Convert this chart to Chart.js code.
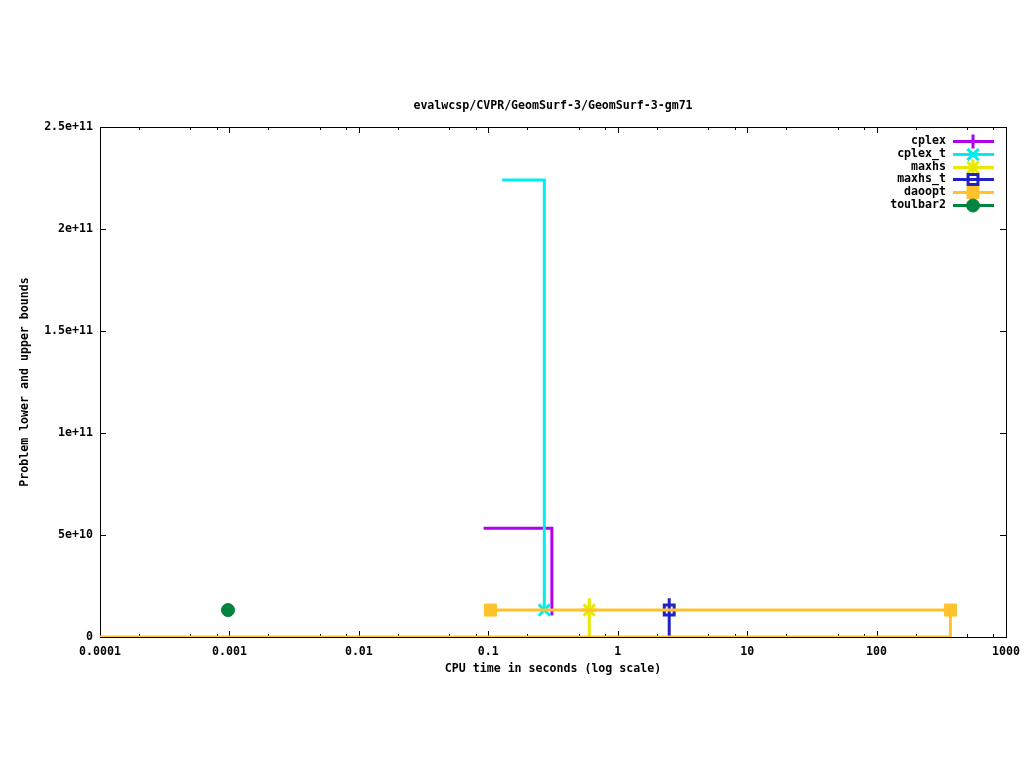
<!DOCTYPE html>
<html>
<head>
<meta charset="utf-8">
<script src="https://cdn.jsdelivr.net/npm/chart.js@4.4.1/dist/chart.umd.min.js"></script>
<style>
  html, body { margin: 0; padding: 0; background: #fff; }
  #wrap { width: 1024px; height: 768px; position: relative; }
</style>
</head>
<body>
<div id="wrap"><canvas id="c"></canvas></div>
<script>
// --- data ---
var TITLE = "evalwcsp/CVPR/GeomSurf-3/GeomSurf-3-gm71";
var X_TITLE = "CPU time in seconds (log scale)";
var Y_TITLE = "Problem lower and upper bounds";

var xMajorTicks = [0.0001, 0.001, 0.01, 0.1, 1, 10, 100, 1000];
var xTickLabels = ["0.0001", "0.001", "0.01", "0.1", "1", "10", "100", "1000"];
var xMinorSteps = [2, 5, 8];
var yTicks = [0, 5e10, 1e11, 1.5e11, 2e11, 2.5e11];
var yTickLabels = ["0", "5e+10", "1e+11", "1.5e+11", "2e+11", "2.5e+11"];

var cplexTime = [0.092, 0.31];
var cplexBound = [5.33e10, 1.05e10];
var cplexTTime = [0.128, 0.271];
var cplexTBound = [2.24e11, 1.32e10];
var maxhsTime = [0.603, 0.603, 0.603];
var maxhsBound = [0, 1.32e10, 1.9e10];
var maxhsTTime = [2.5, 2.5, 2.5];
var maxhsTBound = [0, 1.32e10, 1.9e10];
var daooptTime = [0.104, 372, 372, 0.0001];
var daooptBound = [1.32e10, 1.32e10, 0, 0];
var toulbarTime = [0.000975];
var toulbarBound = [1.32e10];

var FONT = "bold 11.6px 'DejaVu Sans Mono', monospace";

function pts(t, b) { return t.map(function (x, i) { return { x: x, y: b[i] }; }); }

function ds(label, t, b, color, style, radius, extra) {
  var d = {
    label: label, data: pts(t, b), showLine: true,
    borderColor: color, backgroundColor: color, borderWidth: 3,
    pointStyle: style, pointRadius: radius, pointBorderWidth: 3,
    pointBorderColor: color, pointBackgroundColor: color
  };
  for (var k in extra) d[k] = extra[k];
  return d;
}

var datasets = [
  ds("cplex", cplexTime, cplexBound, "#b000f0", "cross", [0, 0], { stepped: "before", order: 6, legendRadius: 7 }),
  ds("cplex_t", cplexTTime, cplexTBound, "#00eeee", "crossRot", [0, 8], { stepped: "before", order: 5 }),
  ds("maxhs", maxhsTime, maxhsBound, "#e8e800", "star", [0, 8, 0], { order: 4 }),
  ds("maxhs_t", maxhsTTime, maxhsTBound, "#2222c4", "rect", [0, 7, 0], { order: 3, pointBackgroundColor: "rgba(0,0,0,0)" }),
  ds("daoopt", daooptTime, daooptBound, "#ffc22a", "rect", [8.5, 8.5, 0, 0], { order: 2, pointBorderWidth: 1 }),
  ds("toulbar2", toulbarTime, toulbarBound, "#00843e", "circle", [6.5], { order: 1, pointBorderWidth: 1 })
];

// border, inward ticks, titles, legend in the gnuplot manner
var gnuplotLook = {
  id: "gnuplotLook",
  beforeDatasetsDraw: function (chart) {
    var ctx = chart.ctx, a = chart.chartArea, xs = chart.scales.x, ys = chart.scales.y;
    ctx.save();
    ctx.strokeStyle = "#000"; ctx.lineWidth = 1;
    ctx.strokeRect(Math.round(a.left) + 0.5, Math.round(a.top) + 0.5, Math.round(a.right - a.left), Math.round(a.bottom - a.top));
    ctx.beginPath();
    xs.ticks.forEach(function (t) {
      var px = Math.round(xs.getPixelForValue(t.value)) + 0.5;
      var len = t.major ? 6 : 3;
      ctx.moveTo(px, a.bottom); ctx.lineTo(px, a.bottom - len);
      ctx.moveTo(px, a.top); ctx.lineTo(px, a.top + len);
    });
    ys.ticks.forEach(function (t) {
      var py = Math.round(ys.getPixelForValue(t.value)) + 0.5;
      ctx.moveTo(a.left, py); ctx.lineTo(a.left + 6, py);
      ctx.moveTo(a.right, py); ctx.lineTo(a.right - 6, py);
    });
    ctx.stroke();
    ctx.restore();
  },
  afterDraw: function (chart) {
    var ctx = chart.ctx, a = chart.chartArea;
    var cx = (a.left + a.right) / 2, cy = (a.top + a.bottom) / 2;
    ctx.save();
    ctx.font = FONT; ctx.fillStyle = "#000"; ctx.textBaseline = "middle";
    ctx.textAlign = "center";
    ctx.fillText(TITLE, cx, 106);
    ctx.fillText(X_TITLE, cx, 669);
    ctx.save();
    ctx.translate(25, cy); ctx.rotate(-Math.PI / 2);
    ctx.fillText(Y_TITLE, 0, 0);
    ctx.restore();
    // legend
    chart.data.datasets.forEach(function (d, i) {
      var y = 141 + i * 12.8;
      ctx.textAlign = "right"; ctx.fillStyle = "#000";
      ctx.fillText(d.label, 946, y);
      ctx.strokeStyle = d.borderColor; ctx.lineWidth = 3;
      ctx.beginPath(); ctx.moveTo(953, Math.round(y) + 0.5); ctx.lineTo(994, Math.round(y) + 0.5); ctx.stroke();
      var r = d.legendRadius || Math.max.apply(null, d.pointRadius);
      ctx.fillStyle = d.pointBackgroundColor; ctx.strokeStyle = d.pointBorderColor;
      ctx.lineWidth = d.pointBorderWidth;
      Chart.helpers.drawPoint(ctx, { pointStyle: d.pointStyle, radius: r, borderWidth: d.pointBorderWidth }, 973, Math.round(y) + 0.5);
    });
    ctx.restore();
  }
};

new Chart(document.getElementById("c"), {
  type: "scatter",
  data: { datasets: datasets },
  plugins: [gnuplotLook],
  options: {
    responsive: true, maintainAspectRatio: false, animation: false,
    layout: { padding: { top: 127, right: 18, left: 0, bottom: 0 } },
    plugins: { legend: { display: false }, tooltip: { enabled: false } },
    scales: {
      x: {
        type: "logarithmic", min: 0.0001, max: 1000,
        afterFit: function (s) { s.height = 131; s.paddingLeft = 0; s.paddingRight = 0; },
        afterBuildTicks: function (s) {
          var t = [];
          xMajorTicks.forEach(function (v, i) {
            t.push({ value: v, major: true });
            if (i < xMajorTicks.length - 1) xMinorSteps.forEach(function (m) { t.push({ value: v * m, major: false }); });
          });
          s.ticks = t;
        },
        grid: { display: false, drawTicks: false },
        border: { display: false },
        ticks: {
          autoSkip: false, maxRotation: 0, padding: 8, color: "#000",
          font: { family: "'DejaVu Sans Mono', monospace", size: 11.6, weight: "bold" },
          callback: function (v) {
            var i = xMajorTicks.indexOf(v);
            return i >= 0 ? xTickLabels[i] : "";
          }
        }
      },
      y: {
        type: "linear", min: 0, max: 2.5e11,
        afterFit: function (s) { s.width = 100; s.paddingTop = 0; s.paddingBottom = 0; },
        afterBuildTicks: function (s) { s.ticks = yTicks.map(function (v) { return { value: v }; }); },
        grid: { display: false, drawTicks: false },
        border: { display: false },
        ticks: {
          padding: 7, color: "#000",
          font: { family: "'DejaVu Sans Mono', monospace", size: 11.6, weight: "bold" },
          callback: function (v) { var i = yTicks.indexOf(v); return i >= 0 ? yTickLabels[i] : ""; }
        }
      }
    }
  }
});
</script>
</body>
</html>
